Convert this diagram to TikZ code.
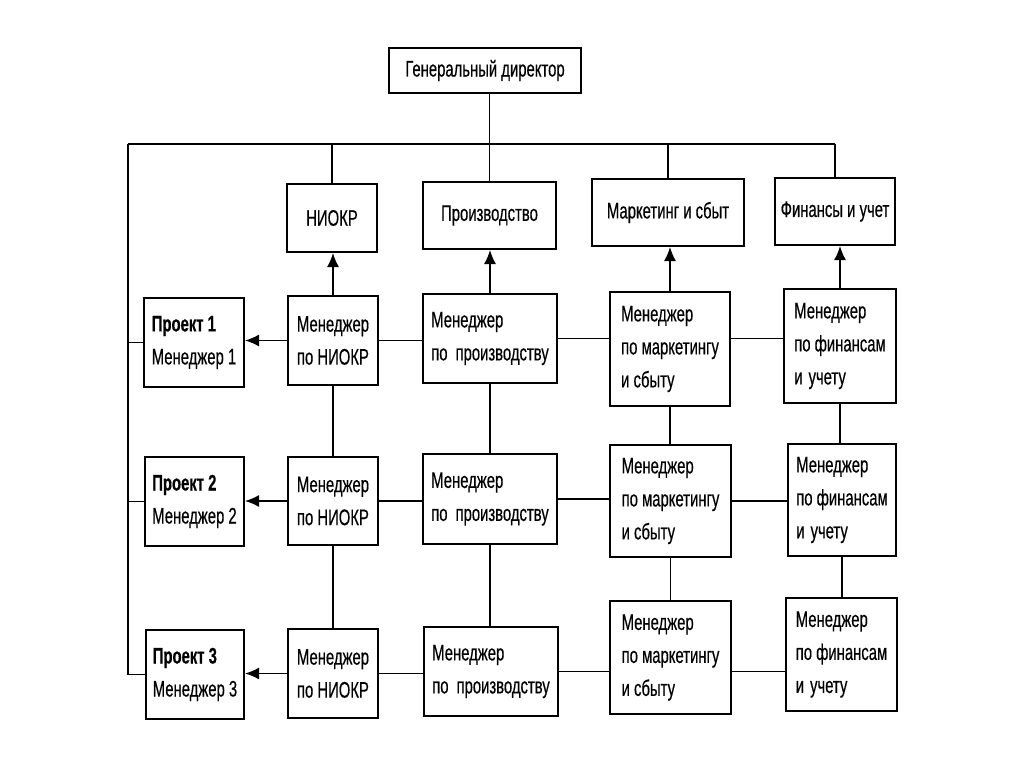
\documentclass[tikz,border=0pt]{standalone}
\usepackage{fontspec}
\setmainfont{Liberation Sans}[FakeStretch=0.66,FakeBold=0.4]
\usetikzlibrary{arrows.meta}
\begin{document}
\begin{tikzpicture}[x=1pt,y=-1pt,
  box/.style={draw, line width=2pt, anchor=north west, inner sep=0pt, align=left, font=\fontsize{22.5}{33}\selectfont},
  dept/.style={draw, line width=2pt, anchor=north west, inner sep=0pt, align=center, font=\fontsize{22.5}{27}\selectfont},
  link/.style={line width=1.5pt},
  arr/.style={line width=1.5pt, -{Latex[length=14pt,width=12pt]}}]
\useasboundingbox (0,0) rectangle (1024,767);
\fill[white] (0,0) rectangle (1024,767);

% top level
\node[dept, minimum width=192pt, minimum height=45pt] (dir) at (388,47) {Генеральный директор};
\node[dept, minimum width=90pt, minimum height=68pt] (niokr) at (286,183) {НИОКР};
\node[dept, minimum width=133pt, minimum height=67pt] (prod) at (422,181) {Производство};
\node[dept, minimum width=152pt, minimum height=67pt] (mark) at (591,178) {Маркетинг и сбыт};
\node[dept, minimum width=120pt, minimum height=67pt] (fin) at (774,177) {Финансы и учет};

% row 1
\node[box, minimum width=100pt, minimum height=89pt] (p1) at (143,297) {\textbf{Проект 1}\\Менеджер 1};
\node[box, minimum width=90pt, minimum height=89pt] (n1) at (287,295) {Менеджер\\по НИОКР};
\node[box, minimum width=134pt, minimum height=89pt] (pr1) at (422,293) {Менеджер\\по\hspace{8pt}производству};
\node[box, minimum width=120pt, minimum height=114pt] (mk1) at (609,291) {Менеджер\\по маркетингу\\и сбыту};
\node[box, minimum width=112pt, minimum height=114pt] (f1) at (783,288) {Менеджер\\по финансам\\и\hspace{6pt}учету};

% row 2
\node[box, minimum width=99pt, minimum height=89pt] (p2) at (144,456) {\textbf{Проект 2}\\Менеджер 2};
\node[box, minimum width=90pt, minimum height=88pt] (n2) at (287,456) {Менеджер\\по НИОКР};
\node[box, minimum width=134pt, minimum height=90pt] (pr2) at (422,453) {Менеджер\\по\hspace{8pt}производству};
\node[box, minimum width=121pt, minimum height=112pt] (mk2) at (609,444) {Менеджер\\по маркетингу\\и сбыту};
\node[box, minimum width=108pt, minimum height=112pt] (f2) at (787,443) {Менеджер\\по финансам\\и\hspace{6pt}учету};

% row 3
\node[box, minimum width=98pt, minimum height=89pt] (p3) at (145,629) {\textbf{Проект 3}\\Менеджер 3};
\node[box, minimum width=90pt, minimum height=89pt] (n3) at (287,628) {Менеджер\\по НИОКР};
\node[box, minimum width=134pt, minimum height=89pt] (pr3) at (423,626) {Менеджер\\по\hspace{8pt}производству};
\node[box, minimum width=121pt, minimum height=113pt] (mk3) at (609,600) {Менеджер\\по маркетингу\\и сбыту};
\node[box, minimum width=111pt, minimum height=113pt] (f3) at (785,597) {Менеджер\\по финансам\\и\hspace{6pt}учету};

% bus
\coordinate (tl) at (128,144);
\draw[link] (tl) -- (fin.north |- tl);
\draw[link] (prod.north) -- (prod.north |- dir.south);
\draw[link] (niokr.north) -- (niokr.north |- tl);
\draw[link] (mark.north) -- (mark.north |- tl);
\draw[link] (fin.north) -- (fin.north |- tl);
\draw[link] (tl) -- (tl |- p3.west);
\draw[link] (p1.west) -- (p1.west -| tl);
\draw[link] (p2.west) -- (p2.west -| tl);
\draw[link] (p3.west) -- (p3.west -| tl);

% arrows up to departments
\draw[arr] (n1.north) -- (n1.north |- niokr.south);
\draw[arr] (pr1.north) -- (pr1.north |- prod.south);
\draw[arr] (mk1.north) -- (mk1.north |- mark.south);
\draw[arr] (f1.north) -- (f1.north |- fin.south);

% arrows to projects
\draw[arr] (n1.west) -- (n1.west -| p1.east);
\draw[arr] (n2.west) -- (n2.west -| p2.east);
\draw[arr] (n3.west) -- (n3.west -| p3.east);

% horizontal links
\draw[link] (n1.east) -- (n1.east -| pr1.west);
\draw[link] (pr1.east) -- (pr1.east -| mk1.west);
\draw[link] (pr1.east -| mk1.east) -- (pr1.east -| f1.west);
\draw[link] (n2.east) -- (n2.east -| pr2.west);
\draw[link] (pr2.east) -- (pr2.east -| mk2.west);
\draw[link] (mk2.east) -- (mk2.east -| f2.west);
\draw[link] (n3.east) -- (n3.east -| pr3.west);
\draw[link] (pr3.east) -- (pr3.east -| mk3.west);
\draw[link] (pr3.east -| mk3.east) -- (pr3.east -| f3.west);

% vertical links
\draw[link] (n1.south) -- (n1.south |- n2.north);
\draw[link] (n2.south) -- (n2.south |- n3.north);
\draw[link] (pr1.south) -- (pr1.south |- pr2.north);
\draw[link] (pr2.south) -- (pr2.south |- pr3.north);
\draw[link] (mk1.south) -- (mk1.south |- mk2.north);
\draw[link] (mk2.south) -- (mk2.south |- mk3.north);
\draw[link] (f1.south) -- (f1.south |- f2.north);
\draw[link] (f2.south) -- (f2.south |- f3.north);
\end{tikzpicture}
\end{document}
